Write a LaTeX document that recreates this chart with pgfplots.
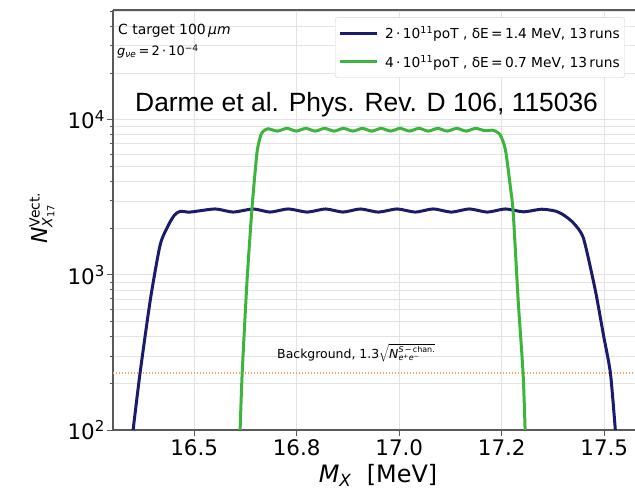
\documentclass[border=0pt]{standalone}
\usepackage{pgfplots}
\pgfplotsset{compat=1.18}
\usepackage{fontspec}
\setmainfont{DejaVu Sans}
\newfontfamily\arial{Liberation Sans}
\definecolor{navy}{HTML}{1B1B6B}
\definecolor{lgreen}{HTML}{3BB53B}
\definecolor{bgorange}{HTML}{F2A25A}
\definecolor{spine}{HTML}{5A5A5A}
\definecolor{gridc}{HTML}{E3E3E3}
\begin{document}
\begin{tikzpicture}[x=1bp,y=1bp]
\useasboundingbox (0,0) rectangle (635,492);
\begin{axis}[
  at={(113bp,62bp)}, anchor=south west,
  scale only axis, width=522bp, height=420bp,
  xmin=16.302, xmax=17.575,
  ymode=log, ymin=100, ymax=51000,
  axis x line*=box, axis y line*=left,
  axis line style={spine, line width=1.3bp},
  xtick={16.5,16.75,17,17.25,17.5},
  xticklabels={16.5,16.8,17.0,17.2,17.5},
  ytick={100,1000,10000},
  yticklabels={10\textsuperscript{2},10\textsuperscript{3},10\textsuperscript{4}},
  minor ytick={200,300,400,500,600,700,800,900,2000,3000,4000,5000,6000,7000,8000,9000,20000,30000,40000,50000},
  xtick pos=bottom, ytick pos=left,
  tick align=outside,
  major tick length=6bp, minor tick length=3.5bp,
  tick style={spine, line width=0.9bp},
  xmajorgrids, ymajorgrids, yminorgrids,
  grid style={gridc, line width=0.8bp},
  minor grid style={gridc, line width=0.7bp},
  /pgf/number format/assume math mode=true,
  ticklabel style={font=\fontsize{21.5}{24}\selectfont},
  yticklabel style={inner xsep=2bp},
  legend style={at={(0.4253,0.983)}, anchor=north west, draw=gray!35, rounded corners=3bp,
    fill=white, font=\fontsize{13.8}{16}\selectfont, inner xsep=3bp, inner ysep=7bp,
    row sep=11bp, column sep=5bp, cells={anchor=west}},
  legend image code/.code={\draw[#1, line width=3bp] (0bp,0bp) -- (37bp,0bp);},
]
\addplot[bgorange, line width=1.3bp, dash pattern=on 1.4bp off 1.6bp, forget plot] coordinates {(16.302,233) (17.575,233)};
\addplot[navy, line width=3bp, smooth, tension=0.4] coordinates {
(16.351,100) (16.368,233) (16.393,690) (16.417,1560) (16.437,2090) (16.452,2430)
(16.466,2570) (16.490,2540) (16.551,2660) (16.595,2540) (16.644,2660) (16.685,2540)
(16.729,2660) (16.776,2540) (16.820,2660) (16.863,2540) (16.905,2660) (16.949,2540)
(16.995,2660) (17.039,2540) (17.083,2660) (17.127,2540) (17.171,2660) (17.215,2540)
(17.259,2660) (17.303,2550) (17.347,2650) (17.380,2580) (17.400,2440) (17.424,2170)
(17.449,1730) (17.478,800) (17.498,410) (17.515,233) (17.527,100)};
\addlegendentry{2\,·\,10\textsuperscript{11}poT , δE\,=\,1.4 MeV, 13\,runs}
\addplot[lgreen, line width=3bp, smooth, tension=0.4] coordinates {
(16.612,100) (16.617,233) (16.629,930) (16.641,2700) (16.649,4750) (16.654,6400)
(16.662,7900) (16.668,8400) (16.680,8750) (16.703,8450) (16.726,8800) (16.749,8450)
(16.772,8800) (16.795,8450) (16.818,8800) (16.841,8450) (16.864,8800) (16.887,8450)
(16.910,8800) (16.933,8450) (16.956,8800) (16.979,8450) (17.002,8800) (17.025,8450)
(17.048,8800) (17.071,8450) (17.094,8800) (17.117,8450) (17.140,8800) (17.163,8450)
(17.186,8800) (17.209,8500) (17.229,8550) (17.246,8000) (17.259,6400) (17.271,3700)
(17.278,2515) (17.290,690) (17.302,233) (17.307,100)};
\addlegendentry{4\,·\,10\textsuperscript{11}poT , δE\,=\,0.7 MeV, 13\,runs}
\node[anchor=base west, inner sep=0pt, font=\fontsize{12.5}{14}\selectfont] at (axis cs:16.702,291)
  {Background, 1.3$\sqrt{\mbox{\textit{N}}^{\mbox{\fontsize{8}{9}\selectfont\textit{S}\,−\,chan.}}_{\mbox{\fontsize{8}{9}\selectfont\textit{e}\textsuperscript{+}\textit{e}\textsuperscript{−}}}}$};
\end{axis}
\node[anchor=base west, inner sep=0pt, font=\fontsize{14}{16}\selectfont] at (118,457) {C target 100\,\textit{μm}};
\node[anchor=base west, inner sep=0pt, font=\fontsize{13}{15}\selectfont] at (117,436) {\textit{g}\textsubscript{\textit{νe}}\,=\,2\,·\,10\textsuperscript{−4}};
\node[anchor=base west, inner sep=0pt, font=\arial\fontsize{26.5}{30}\selectfont] at (135,380) {Darme et al. Phys. Rev. D 106, 115036};
\node[rotate=90, inner sep=0pt] at (42,274) {\fontsize{22}{26}\selectfont\textit{N}$^{\mbox{\fontsize{14}{16}\selectfont Vect.}}_{\mbox{\fontsize{14}{16}\selectfont\textit{X}\textsubscript{17}}}$};
\node[anchor=base, inner sep=0pt, font=\fontsize{24}{28}\selectfont] at (378,9) {\textit{M}\textsubscript{\textit{X}}\ \ [MeV]};
\end{tikzpicture}
\end{document}
